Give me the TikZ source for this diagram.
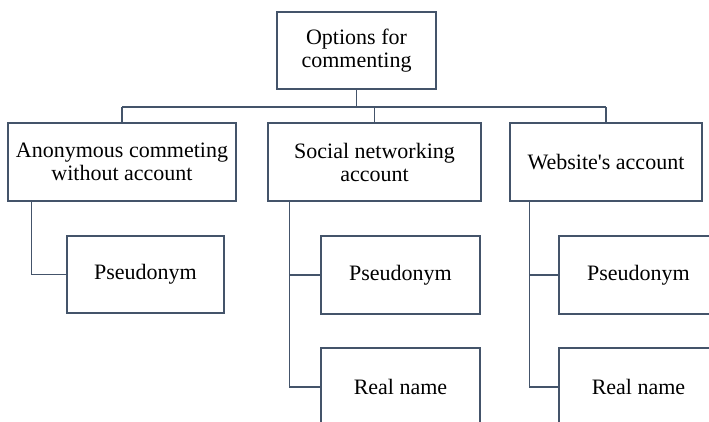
\documentclass[tikz,border=0pt]{standalone}
\usepackage{fontspec}
\setmainfont{Liberation Serif}
\newfontfamily\plainfont{Liberation Serif}
\definecolor{lc}{HTML}{44546A}
\begin{document}
\begin{tikzpicture}[x=1pt,y=-1pt,
  box/.style={draw=lc,line width=1.3pt,fill=white,inner sep=0pt,align=center,
    font=\fontsize{22}{23}\selectfont,anchor=center},
  conn/.style={draw=lc,line width=1.3pt}]
\useasboundingbox (0,0) rectangle (709,421);
\clip (0,0) rectangle (709,421);
\node[box,minimum width=159pt,minimum height=77pt] (top) at (356.5,50.5) {Options for\\commenting};
\node[box,minimum width=228pt,minimum height=78pt] (L) at (122,162) {Anonymous commeting\\without account};
\node[box,minimum width=213pt,minimum height=78pt] (M) at (374.5,162) {Social networking\\account};
\node[box,minimum width=192pt,minimum height=78pt] (R) at (606,162) {{\plainfont Website's account}};
\node[box,minimum width=157pt,minimum height=77pt] (P1) at (145.5,274.5) {Pseudonym};
\node[box,minimum width=159pt,minimum height=78pt] (P2) at (400.5,275) {Pseudonym};
\node[box,minimum width=159pt,minimum height=78pt] (R2) at (400.5,387) {Real name};
\node[box,minimum width=159pt,minimum height=78pt] (P3) at (638.5,275) {Pseudonym};
\node[box,minimum width=159pt,minimum height=78pt] (R3) at (638.5,387) {Real name};
\coordinate (bus) at (356.5,107);
\draw[conn] (top.south) -- (bus);
\draw[conn] (L.north |- bus) -- (R.north |- bus);
\draw[conn] (L.north |- bus) -- (L.north);
\draw[conn] (M.north |- bus) -- (M.north);
\draw[conn] (R.north |- bus) -- (R.north);
\draw[conn] ([xshift=24pt]L.south west) |- (P1.west);
\draw[conn] ([xshift=22pt]M.south west) |- (R2.west);
\draw[conn] ([xshift=22pt]M.south west |- P2.west) -- (P2.west);
\draw[conn] ([xshift=20pt]R.south west) |- (R3.west);
\draw[conn] ([xshift=20pt]R.south west |- P3.west) -- (P3.west);
\end{tikzpicture}
\end{document}
